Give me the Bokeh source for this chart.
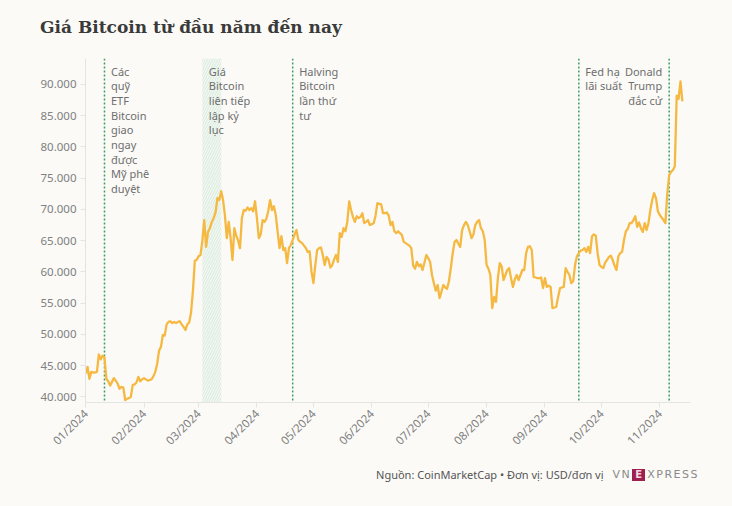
import math
from datetime import datetime
import pandas as pd
from bokeh.plotting import figure
from bokeh.layouts import column
from bokeh.models import (Range1d, FixedTicker, MonthsTicker, DatetimeTickFormatter,
                          Span, BoxAnnotation, Label, Div)
from bokeh.embed import file_html
from bokeh.resources import INLINE

# ---------------- data ----------------
start_date = "2024-01-01"
# daily BTC price (thousand USD)
prices_k = [
    43.7, 44.8, 42.9, 44.0, 43.9, 43.9, 44.0, 46.8, 46.0, 46.6,
    46.3, 42.9, 42.5, 41.8, 42.4, 43.0, 42.6, 42.1, 41.3, 41.6,
    41.5, 39.5, 39.7, 39.8, 40.0, 41.9, 42.0, 42.3, 43.2, 42.5,
    42.8, 43.0, 42.8, 42.6, 42.7, 42.8, 43.3, 44.0, 45.3, 47.4,
    48.0, 49.9, 49.8, 51.6, 52.0, 52.1, 51.8, 52.0, 51.8, 52.0,
    52.1, 51.6, 51.2, 50.7, 51.6, 51.9, 53.5, 57.0, 61.8, 61.9,
    62.5, 62.7, 65.0, 68.3, 64.0, 66.4, 67.0, 68.0, 68.6, 69.5,
    71.8, 71.5, 72.9, 71.5, 69.0, 65.4, 68.0, 65.4, 61.9, 67.0,
    65.8, 65.0, 63.8, 68.6, 69.9, 69.8, 70.3, 69.9, 70.2, 69.7,
    71.3, 68.6, 65.4, 66.0, 68.3, 68.0, 68.5, 69.7, 71.5, 69.9,
    70.5, 69.1, 66.4, 63.8, 65.7, 63.5, 63.8, 61.4, 63.8, 64.3,
    65.1, 66.0, 66.7, 65.1, 64.8, 64.6, 64.2, 63.8, 63.2, 63.3,
    60.0, 58.2, 61.1, 63.5, 63.8, 63.9, 62.7, 61.1, 62.4, 62.0,
    60.7, 61.1, 62.0, 62.7, 61.6, 66.2, 65.6, 67.0, 66.5, 68.0,
    71.3, 69.9, 68.8, 68.0, 68.9, 68.6, 68.8, 69.4, 67.8, 68.0,
    68.3, 67.5, 67.6, 67.8, 69.0, 71.0, 70.9, 70.8, 69.4, 69.4,
    69.5, 69.0, 67.5, 68.0, 66.5, 66.2, 66.5, 66.2, 65.9, 64.8,
    64.6, 64.4, 64.2, 63.8, 61.0, 60.5, 61.6, 60.9, 61.2, 60.3,
    61.5, 62.7, 62.2, 61.6, 59.5, 58.2, 57.0, 57.9, 55.8, 56.8,
    57.9, 57.5, 57.3, 58.5, 60.6, 63.0, 64.8, 65.1, 64.5, 64.0,
    66.7, 67.5, 68.0, 67.5, 66.5, 65.4, 66.0, 67.5, 68.0, 68.3,
    67.0, 66.5, 65.1, 61.1, 60.5, 59.5, 54.2, 56.0, 55.2, 59.0,
    61.4, 60.9, 58.7, 59.5, 60.3, 60.6, 59.0, 57.6, 58.8, 59.5,
    58.7, 59.5, 60.3, 60.3, 63.0, 64.0, 64.1, 63.5, 59.2, 59.1,
    59.0, 59.0, 59.1, 57.4, 59.0, 57.6, 57.8, 57.6, 54.2, 54.3,
    54.4, 56.0, 57.4, 57.5, 57.6, 60.6, 60.0, 59.5, 58.2, 58.5,
    61.1, 62.5, 63.0, 63.4, 63.5, 63.8, 63.2, 64.0, 63.0, 65.7,
    66.0, 65.8, 63.0, 61.1, 60.8, 60.6, 61.5, 61.9, 62.4, 62.6,
    61.9, 61.0, 60.3, 62.5, 63.0, 63.2, 65.1, 66.5, 66.9, 67.8,
    67.8, 68.3, 68.9, 67.2, 67.9, 67.0, 66.4, 67.8, 66.7, 67.8,
    69.9, 71.5, 72.6, 71.8, 69.7, 69.1, 68.7, 68.3, 67.8, 72.5,
    75.5, 76.0, 76.3, 76.9, 88.2, 87.7, 90.5, 87.3,
]

y_ticks = [40000, 45000, 50000, 55000, 60000, 65000, 70000, 75000, 80000, 85000, 90000]
y_tick_labels = ["40.000", "45.000", "50.000", "55.000", "60.000", "65.000",
                 "70.000", "75.000", "80.000", "85.000", "90.000"]

event_dates = [datetime(2024, 1, 11), datetime(2024, 4, 20), datetime(2024, 9, 19), datetime(2024, 11, 6)]
event_texts = ["Các\nquỹ\nETF\nBitcoin\ngiao\nngay\nđược\nMỹ phê\nduyệt",
               "Halving\nBitcoin\nlần thứ\ntư",
               "Fed hạ\nlãi suất",
               "Donald\nTrump\nđắc cử"]
event_align = ["left", "left", "left", "right"]

band_start = datetime(2024, 3, 3)
band_end = datetime(2024, 3, 13)
band_text = "Giá\nBitcoin\nliên tiếp\nlập kỷ\nlục"

title_text = "Giá Bitcoin từ đầu năm đến nay"
source_text = "Nguồn: CoinMarketCap • Đơn vị: USD/đơn vị"

# ---------------- figure ----------------
dates = pd.date_range(start_date, periods=len(prices_k), freq="D")
prices = [v * 1000 for v in prices_k]

BG = "#fbfaf7"
GRAY_TXT = "#6e6e6e"
AXIS_C = "#e4e4e4"
FONT = "Noto Sans"

FW, FH = 605, 344
p = figure(x_axis_type="datetime", frame_width=FW, frame_height=FH,
           min_border_left=85, min_border_right=42, min_border_top=8, min_border_bottom=60,
           output_backend="svg", toolbar_location=None,
           x_range=Range1d(datetime(2023, 12, 31, 22), datetime(2024, 11, 17, 8)),
           y_range=Range1d(39100, 94150))
p.background_fill_color = BG
p.border_fill_color = BG
p.outline_line_color = None
p.grid.visible = False

# axes
p.yaxis.ticker = FixedTicker(ticks=y_ticks)
p.yaxis.major_label_overrides = {t: l for t, l in zip(y_ticks, y_tick_labels)}
p.xaxis.ticker = MonthsTicker(months=list(range(1, 13)))
p.xaxis.formatter = DatetimeTickFormatter(months="%m/%Y", days="%m/%Y", years="%m/%Y")
p.xaxis.major_label_orientation = math.pi / 4
for ax in (p.xaxis, p.yaxis):
    ax.axis_line_color = AXIS_C
    ax.major_tick_line_color = AXIS_C
    ax.major_tick_out = 5
    ax.major_tick_in = 0
    ax.minor_tick_line_color = None
    ax.major_label_text_color = "#808080"
    ax.major_label_text_font = FONT
    ax.major_label_text_font_size = "11.5px"
p.yaxis.major_label_standoff = 4
p.xaxis.major_label_standoff = 4

# shaded band
band = BoxAnnotation(left=band_start, right=band_end, fill_color="#edf5ee", fill_alpha=0.6,
                     hatch_pattern="/", hatch_color="#d8ebdb", hatch_scale=5, hatch_weight=1,
                     line_color=None, level="underlay")
p.add_layout(band)

# event lines
for d in event_dates:
    p.add_layout(Span(location=d, dimension="height", line_color="#3c9d60",
                      line_dash="2 2", line_width=1.5, level="underlay"))

# price line
p.line(dates, prices, line_color="#F5B942", line_width=2.3, line_join="round")

# annotations
def note(x, txt, align):
    off = 6.5 if align == "left" else -7
    p.add_layout(Label(x=x, y=FH - 5, y_units="screen", x_offset=off, text=txt,
                       text_align=align, text_baseline="top", text_font=FONT,
                       text_font_size="11px", text_color=GRAY_TXT, text_line_height=0.98))

for d, t, a in zip(event_dates, event_texts, event_align):
    note(d, t, a)
note(band_start, band_text, "left")

# title and footer
title_div = Div(
    text=('<div style="padding:16px 0 0 40px;font-family:\'DejaVu Serif\';font-weight:bold;'
          'font-size:17px;line-height:22px;color:#3a3a3a;white-space:nowrap;">'
          + title_text + '</div>'),
    width=732, height=50, margin=0,
    styles={"background-color": BG})

footer_div = Div(
    text=('<div style="display:flex;justify-content:flex-end;align-items:center;'
          'width:699px;padding-top:9px;height:16px;white-space:nowrap;">'
          '<span style="font-family:\'Noto Sans\';font-size:11px;color:#555555;">'
          + source_text + '</span>'
          '<span style="margin-left:9px;font-family:\'DejaVu Sans\';font-size:11px;'
          'color:#8a8a8a;letter-spacing:1.5px;display:flex;align-items:center;">VN'
          '<span style="display:inline-block;background:#9d2050;color:#f6dbe4;font-weight:bold;'
          'font-size:10px;line-height:12px;width:13px;text-align:center;letter-spacing:0;'
          'margin:0 2px 0 1px;">E</span>XPRESS</span></div>'),
    width=732, height=44, margin=0,
    styles={"background-color": BG})

layout = column(title_div, p, footer_div, spacing=0, styles={"background-color": BG})

open("out.html", "w").write(file_html(layout, INLINE))
